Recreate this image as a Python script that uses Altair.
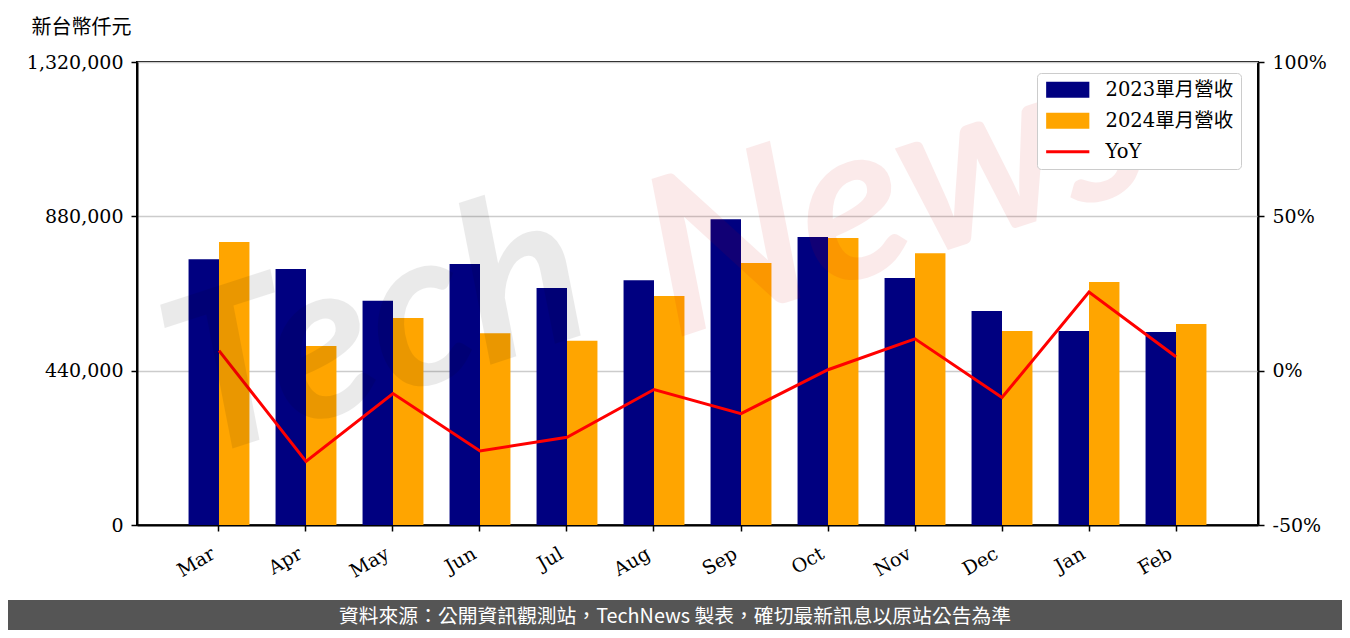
import altair as alt
import pandas as pd

months = ["Mar", "Apr", "May", "Jun", "Jul", "Aug", "Sep", "Oct", "Nov", "Dec", "Jan", "Feb"]
rev_2023 = [758000, 730000, 639000, 744000, 676000, 698000, 872000, 821000, 704000, 610000, 553000, 550000]
rev_2024 = [807000, 510000, 590000, 547000, 525000, 653000, 747000, 818000, 775000, 553000, 693000, 573000]
yoy = [6.5, -29.4, -7.4, -26.0, -21.6, -6.1, -13.9, 0.3, 10.3, -8.7, 25.5, 4.5]

series_names = ["2023單月營收", "2024單月營收", "YoY"]
series_colors = ["#000080", "#FFA500", "#FF0000"]
y_ticks = [0, 440000, 880000, 1320000]
yoy_ticks = [-50, 0, 50, 100]
y_title = "新台幣仟元"
footer = "資料來源：公開資訊觀測站，TechNews 製表，確切最新訊息以原站公告為準"

SERIF = "DejaVu Serif, Noto Sans CJK TC"
CJK = "Noto Sans CJK TC"

bars_df = pd.DataFrame({
    "month": months * 2,
    "series": [series_names[0]] * len(months) + [series_names[1]] * len(months),
    "value": rev_2023 + rev_2024,
})
line_df = pd.DataFrame({"month": months, "series": ["YoY"] * len(months), "yoy": yoy})

color_scale = alt.Scale(domain=series_names, range=series_colors)

legend = alt.Legend(
    title=None, orient="none", legendX=900, legendY=11,
    labelFont=SERIF, labelFontSize=19.5, labelColor="black",
    symbolSize=256, symbolOffset=14, labelOffset=28, rowPadding=10,
    padding=7, strokeColor="#cccccc", fillColor="white", cornerRadius=4,
    symbolType={"expr": "datum.value === 'YoY' ? 'M-2.7,0H2.7' : 'M-2.7,-1H2.7V1H-2.7Z'"},
    symbolFillColor={"expr": "datum.value === 'YoY' ? 'transparent' : scale('color', datum.value)"},
    symbolStrokeColor={"expr": "scale('color', datum.value)"},
    symbolStrokeWidth={"expr": "datum.value === 'YoY' ? 3 : 0"},
    symbolOpacity=1,
)

x_enc = alt.X(
    "month:N", sort=months, title=None,
    scale=alt.Scale(paddingInner=0.3, paddingOuter=0.5925),
    axis=alt.Axis(labelAngle=330, labelAlign="right", labelBaseline="top",
                  labelFont=SERIF, labelFontSize=19, labelColor="black",
                  labelOffset=-10,
                  tickColor="black", tickSize=6, tickWidth=1.5, domainColor="black",
                  domainWidth=2, labelPadding=13, grid=False),
)

bars = alt.Chart(bars_df).mark_bar().encode(
    x=x_enc,
    xOffset=alt.XOffset("series:N", sort=series_names[:2], scale=alt.Scale(paddingInner=0, paddingOuter=0)),
    y=alt.Y("value:Q", scale=alt.Scale(domain=[0, 1320000], nice=False, zero=True),
            axis=alt.Axis(values=y_ticks, format=",d", orient="left", title=y_title,
                          titleAngle=0, titleX=-56, titleY=-35, titleAlign="center",
                          titleBaseline="middle", titleFont=CJK, titleFontSize=20,
                          titleFontWeight="normal", titleColor="black",
                          labelFont=SERIF, labelFontSize=19, labelColor="black",
                          tickColor="black", tickSize=6, tickWidth=1.5,
                          domainColor="black", domainWidth=2, labelPadding=8,
                          grid=True, gridColor="#cccccc", gridWidth=1.5)),
    color=alt.Color("series:N", scale=color_scale, legend=legend),
)

line = alt.Chart(line_df).mark_line(strokeWidth=3).encode(
    x=alt.X("month:N", sort=months),
    y=alt.Y("yoy:Q", scale=alt.Scale(domain=[-50, 100], nice=False),
            axis=alt.Axis(values=yoy_ticks, orient="right", title=None,
                          labelExpr="datum.value + '%'",
                          labelFont=SERIF, labelFontSize=19, labelColor="black",
                          tickColor="black", tickSize=6, tickWidth=1.5,
                          domainColor="black", domainWidth=2, labelPadding=8,
                          grid=False)),
    color=alt.Color("series:N", scale=color_scale, legend=legend),
)

wm_df = pd.DataFrame({"w1": ["Tech"], "w2": ["News"]})
wm_tech = alt.Chart(wm_df).mark_text(
    font="Lato", fontStyle="italic", fontWeight="bold", fontSize=220, angle=342,
    color="#000000", opacity=0.08, align="center", baseline="middle",
).encode(text="w1:N", x=alt.value(240), y=alt.value(270))
wm_news = alt.Chart(wm_df).mark_text(
    font="Lato", fontStyle="italic", fontWeight="bold", fontSize=220, angle=342,
    color="#d00000", opacity=0.08, align="center", baseline="middle",
).encode(text="w2:N", x=alt.value(760), y=alt.value(135))

foot_df = pd.DataFrame({"t": [footer]})
foot_rect = alt.Chart(foot_df).mark_rect(color="#555555").encode(
    x=alt.value(-200), x2=alt.value(1500), y=alt.value(538), y2=alt.value(700))
foot_text = alt.Chart(foot_df).mark_text(
    font=CJK, fontSize=19.8, color="white", align="center", baseline="middle",
).encode(text="t:N", x=alt.value(538), y=alt.value(555))

chart = alt.layer(bars, line, wm_tech, wm_news, foot_rect, foot_text).resolve_scale(
    y="independent"
).properties(
    width=1121, height=463,
    autosize=alt.AutoSizeParams(type="none"),
    padding={"left": 129, "top": 54, "right": 84, "bottom": 105},
).configure_view(stroke="black", strokeWidth=2)

chart.save("out.html", embed_options={"renderer": "svg", "actions": False})
